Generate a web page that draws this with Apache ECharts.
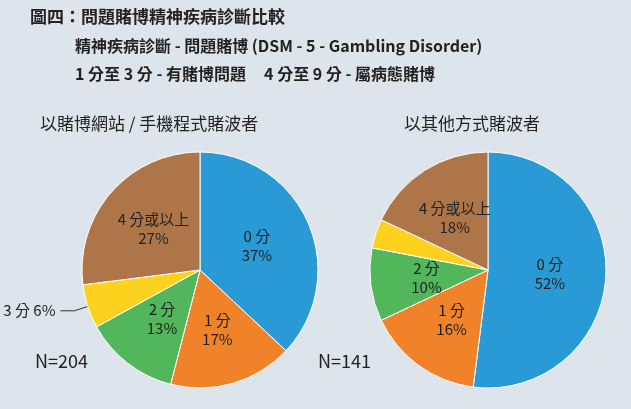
<!DOCTYPE html>
<html><head><meta charset="utf-8">
<script src="https://cdn.jsdelivr.net/npm/echarts@6/dist/echarts.min.js"></script>
<style>body{margin:0;background:#dde4ec}#main{width:631px;height:409px}</style>
</head><body><div id="main"></div>
<script>
var categories = ['0 分', '1 分', '2 分', '3 分', '4 分或以上'];
var onlineValues = [37, 17, 13, 6, 27];
var otherValues = [52, 16, 10, 4, 18];
var colors = ['#2a9ad6', '#f0822a', '#52b65a', '#fdd21e', '#ae7548'];
var F = '"Noto Sans CJK TC", sans-serif';

function makeData(vals) {
  return categories.map(function (c, i) {
    var d = { name: c, value: vals[i] };
    if (i === 3) {
      d.label = { position: 'outside', formatter: '{b} {c}%', overflow: 'none', width: 80 };
      d.labelLine = { show: true, length: 14, length2: 14, lineStyle: { color: '#333' } };
    }
    return d;
  });
}
function pie(cx, vals) {
  return {
    type: 'pie', center: [cx, 270], radius: 118, startAngle: 90,
    avoidLabelOverlap: false,
    data: makeData(vals),
    itemStyle: { borderColor: '#fff', borderWidth: 1 },
    label: { position: 'inside', formatter: '{b}\n{c}%', fontSize: 15, color: '#222', fontFamily: F, lineHeight: 19 },
    labelLine: { show: false },
    silent: true
  };
}
var chart = echarts.init(document.getElementById('main'));
chart.setOption({
  backgroundColor: '#dde4ec',
  color: colors,
  animation: false,
  graphic: [
    { type: 'text', left: 30, top: 8, style: { text: '圖四：問題賭博精神疾病診斷比較', font: 'bold 17px ' + F, fill: '#222' } },
    { type: 'text', left: 75, top: 38, style: { text: '精神疾病診斷 - 問題賭博 (DSM - 5 - Gambling Disorder)', font: 'bold 16px ' + F, fill: '#222' } },
    { type: 'text', left: 75, top: 66, style: { text: '1 分至 3 分 - 有賭博問題     4 分至 9 分 - 屬病態賭博', font: 'bold 16px ' + F, fill: '#222' } },
    { type: 'text', left: 40, top: 115, style: { text: '以賭博網站 / 手機程式賭波者', font: '17px ' + F, fill: '#222' } },
    { type: 'text', left: 404, top: 115, style: { text: '以其他方式賭波者', font: '17px ' + F, fill: '#222' } },
    { type: 'text', left: 35, top: 352, style: { text: 'N=204', font: '18px ' + F, fill: '#222' } },
    { type: 'text', left: 318, top: 352, style: { text: 'N=141', font: '18px ' + F, fill: '#222' } }
  ],
  series: [pie(200, onlineValues), pie(488, otherValues)]
});
</script></body></html>
